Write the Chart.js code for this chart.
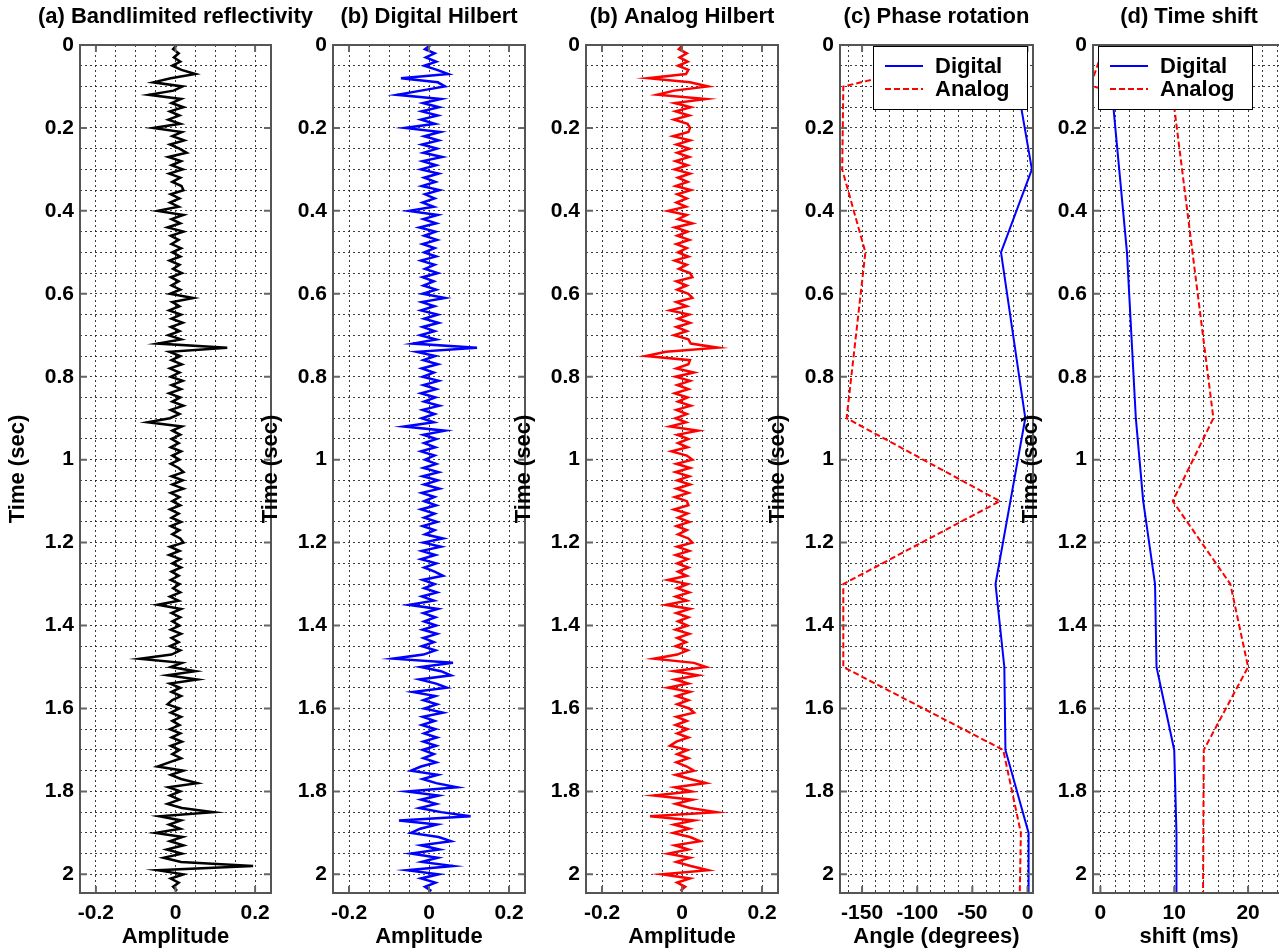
<!DOCTYPE html>
<html>
<head>
<meta charset="utf-8">
<title>Hilbert transform comparison</title>
<script src="https://cdn.jsdelivr.net/npm/chart.js@4.4.1/dist/chart.umd.min.js"></script>
<style>
  html, body { margin: 0; padding: 0; background: #fff; overflow: hidden; }
  body { width: 1279px; height: 950px; position: relative; }
  canvas { position: absolute; top: 0; }
</style>
</head>
<body>
<canvas id="reflect"></canvas>
<canvas id="digital"></canvas>
<canvas id="analog"></canvas>
<canvas id="phase"></canvas>
<canvas id="shift"></canvas>
<script>
// traces are sampled every 10 ms, amplitudes below are in units of 0.001
var reflectivity = [
  3, -6, 8, -4, 12, -8, 15, 50, -12, -56, 18, -5, -67, 14, -10, 20, -14, 10, -18, 12,
  -56, 16, -8, 22, -14, 10, 28, -18, 14, -10, 18, -16, 12, -8, 15, 20, -12, 10, -14, 8,
  -45, 20, -10, 12, -20, 20, -12, 8, -10, 14, -8, 12, -15, 10, -6, 16, -12, 8, -10, 12,
  -14, 45, -8, 10, -16, 14, -10, 18, -12, 10, -18, 14, -45, 130, -15, 12, -10, 16, -14, 10,
  -12, 18, -10, 14, -16, 12, -8, 20, -12, 10, -14, -70, 16, -8, 12, -10, 8, -12, 14, -8,
  10, -12, 8, 20, -10, 18, -8, 20, -12, 10, -8, 12, -14, 8, -10, 14, -12, 10, -8, 12,
  20, -14, 10, -16, 12, -8, 14, -10, 8, -12, 10, -6, 12, -14, 8, -45, 14, -10, 12, -8,
  10, -12, 14, -10, 8, -14, 12, -10, -90, 16, -12, 50, -20, 55, -14, 12, -10, 14, -8, -20,
  10, -12, 14, -8, 10, -14, 12, -10, 16, -12, 10, -8, 14, -16, -45, 20, -12, 14, 55, -18,
  12, -14, 10, -20, 16, 95, -40, 14, -16, 12, -50, 18, -14, 20, -22, 16, -30, 14, 195, -45,
  20, -12, 8, -6, 4
];
var digitalHilbert = [
  4, -10, 14, -8, 18, -12, 20, 48, -70, 22, 40, -20, -80, 30, -15, 25, -18, 22, -20, 15,
  -60, 28, -12, 24, -18, 20, -14, 33, -16, 18, -20, 24, -12, 16, -18, 26, -10, 14, -16, 12,
  -50, 22, -14, 18, -24, 16, -12, 20, -16, 14, -12, 18, -20, 14, -10, 22, -16, 12, -14, 18,
  -16, 40, -18, 14, -20, 22, -12, 24, -16, 14, -22, 18, -40, 120, -30, 16, -14, 22, -18, 12,
  -16, 24, -14, 18, -20, 16, -12, 26, -16, 14, -18, 12, -62, 40, -14, 18, -12, 16, -20, 14,
  -10, 18, -14, 24, -16, 22, -12, 26, -18, 14, -12, 18, -20, 14, -12, 20, -16, 14, -10, 35,
  -14, 30, -18, 16, -20, 18, -12, 14, 35, -16, 14, -12, 20, -18, 12, -50, 22, -14, 16, -12,
  18, -16, 20, -14, 12, -18, 16, -14, -90, 60, -20, 30, 55, -24, 18, 45, -40, 16, -14, 20,
  -12, 35, -16, 14, -18, 16, -12, 20, -14, 18, -16, 12, -14, 18, -20, -45, 22, -16, 18, 70,
  -55, 24, -20, 18, -24, 30, 104, -75, 20, -22, -45, 24, 55, -20, 26, -45, 22, -18, 60, -55,
  24, -20, 16, -10, 6
];
var analogHilbert = [
  2, -8, 12, -6, 14, -10, 16, 10, -85, 20, 65, -20, -62, 60, -18, 22, -16, 18, -20, 14,
  20, 16, -22, 20, -14, 18, -12, 18, -16, 14, -18, 20, -10, 14, -16, 22, -12, 12, -14, 10,
  -35, 12, -10, 26, -18, 14, -12, 18, -14, 12, -10, 16, -18, 12, -8, 20, 26, -14, 12, -12,
  16, 26, -14, 12, -30, 18, -10, 20, -14, 12, -20, 16, 22, 90, -40, -90, 20, 16, -14, 30,
  -16, 20, -12, 16, -18, 14, -10, 22, -14, 12, -16, 10, -30, 40, -12, 16, -10, 14, -26, 12,
  26, -14, 20, -16, 18, -12, 20, -14, 16, -18, 12, 16, -20, 14, -10, 18, -14, 12, -10, 16,
  26, -12, 18, -16, 14, -12, 16, -10, 12, -35, 14, -12, 18, -16, 12, -40, 20, -14, 16, -10,
  14, -16, 18, -12, 10, -16, 14, -12, -70, 30, 60, -20, 40, -18, 16, -35, 20, -14, 16, -12,
  18, 30, -14, 12, -16, 14, -12, 16, -14, -30, 14, -12, 16, -14, 12, 30, -16, 20, 60, -18,
  24, -70, 26, -16, 20, 86, -80, 30, -20, 18, -22, 20, 45, -18, 16, -35, 20, -14, 22, 65,
  -50, 20, -12, 8, -4
];

// phase rotation (degrees) at window centres
var phaseDigitalTime = [0, 0.1, 0.3, 0.5, 0.9, 1.3, 1.5, 1.7, 1.9, 2.045];
var phaseDigital     = [-3, -9, 4, -24, -2, -29, -21, -20, 1, 1];
var phaseAnalogTime  = [0, 0.1, 0.3, 0.5, 0.9, 1.1, 1.3, 1.5, 1.7, 1.9, 2.045];
var phaseAnalog      = [-7, -167, -168, -147, -164, -25, -167, -167, -22, -6, -7];

// time shift (ms)
var shiftDigitalTime = [0, 0.1, 0.5, 0.9, 1.1, 1.3, 1.5, 1.7, 1.9, 2.045];
var shiftDigital     = [0.2, 1.5, 3.6, 4.8, 5.8, 7.4, 7.6, 10.0, 10.3, 10.3];
var shiftAnalogTime  = [0, 0.08, 0.1, 0.15, 0.9, 1.1, 1.3, 1.5, 1.7, 2.045];
var shiftAnalog      = [0.6, -1, -1, 10.0, 15.3, 9.8, 17.6, 20.0, 14.0, 13.9];

// labelled ticks
var timeTickLabels  = [0, 0.2, 0.4, 0.6, 0.8, 1, 1.2, 1.4, 1.6, 1.8, 2];
var ampTickLabels   = [-0.2, 0, 0.2];
var angleTickLabels = [-150, -100, -50, 0];
var shiftTickLabels = [0, 10, 20];

var FONT = '"Liberation Sans", Arial, Helvetica, sans-serif';
Chart.defaults.font.family = FONT;
Chart.defaults.color = '#000';
var GRID = 'rgba(25,25,25,0.85)';

var traceTime = [];
for (var i = 0; i < reflectivity.length; i++) traceTime.push(+(i * 0.01).toFixed(2));

function tracePoints(values) {
    return values.map(function (v, k) { return {x: v / 1000, y: traceTime[k]}; });
}
function curvePoints(times, values) {
    return values.map(function (v, k) { return {x: v, y: times[k]}; });
}
// grid positions between lo and hi every step
function gridValues(lo, hi, step) {
    var out = [];
    var first = Math.ceil(lo / step - 1e-9);
    for (var k = first; k * step <= hi + 1e-9; k++) out.push(Math.round(k * step * 1000) / 1000);
    return out;
}
function hasValue(list, v) {
    return list.some(function (t) { return Math.abs(t - v) < 1e-6; });
}

// draws the axes box, inward tick marks, the panel title and the legend
var matlabFrame = {
    id: 'matlabFrame',
    afterDraw: function (chart, args, opts) {
        var ctx = chart.ctx, a = chart.chartArea;
        var xs = chart.scales.x, ys = chart.scales.y;
        ctx.save();
        ctx.fillStyle = '#000';
        ctx.font = 'bold 22px ' + FONT;
        ctx.textAlign = 'center';
        ctx.textBaseline = 'middle';
        ctx.fillText(opts.title, (a.left + a.right) / 2, 17);

        ctx.strokeStyle = '#666';
        ctx.lineWidth = 2;
        ctx.beginPath();
        opts.xMajor.forEach(function (v) {
            var px = xs.getPixelForValue(v);
            ctx.moveTo(px, a.bottom); ctx.lineTo(px, a.bottom - 7);
            ctx.moveTo(px, a.top); ctx.lineTo(px, a.top + 7);
        });
        timeTickLabels.forEach(function (v) {
            var py = ys.getPixelForValue(v);
            ctx.moveTo(a.left, py); ctx.lineTo(a.left + 7, py);
            ctx.moveTo(a.right, py); ctx.lineTo(a.right - 7, py);
        });
        ctx.stroke();

        ctx.strokeStyle = '#555';
        ctx.lineWidth = 2;
        ctx.strokeRect(a.left, a.top, a.right - a.left, a.bottom - a.top);

        if (opts.legend) {
            var w = 154, h = 63;
            var bx = opts.legend === 'ne' ? a.right - 6 - w : a.left + 5;
            var by = a.top + 1;
            ctx.fillStyle = '#fff';
            ctx.fillRect(bx, by, w, h);
            ctx.strokeStyle = '#000';
            ctx.lineWidth = 1;
            ctx.strokeRect(bx + 0.5, by + 0.5, w, h);
            chart.data.datasets.forEach(function (ds, k) {
                var ry = by + 20 + k * 23;
                ctx.strokeStyle = ds.borderColor;
                ctx.lineWidth = ds.borderWidth;
                ctx.setLineDash(ds.borderDash || []);
                ctx.beginPath();
                ctx.moveTo(bx + 12, ry);
                ctx.lineTo(bx + 50, ry);
                ctx.stroke();
                ctx.setLineDash([]);
                ctx.fillStyle = '#000';
                ctx.textAlign = 'left';
                ctx.fillText(ds.label, bx + 62, ry + 1);
            });
        }
        ctx.restore();
    }
};

function makePanel(id, p) {
    var canvas = document.getElementById(id);
    var yWidth = 75, rightPad = 50;
    canvas.width = p.plotRight - p.plotLeft + yWidth + rightPad;
    canvas.height = 950;
    canvas.style.left = (p.plotLeft - yWidth) + 'px';
    var xGrid = gridValues(p.xMin, p.xMax, p.xStep);
    var yGrid = gridValues(0, 2.045, 0.05);
    return new Chart(canvas, {
        type: 'scatter',
        data: {datasets: p.datasets},
        options: {
            responsive: false,
            animation: false,
            devicePixelRatio: 1,
            layout: {padding: {top: 45, right: rightPad, bottom: 0, left: 0}},
            plugins: {
                legend: {display: false},
                tooltip: {enabled: false},
                matlabFrame: {title: p.title, xMajor: p.xLabels, legend: p.legend}
            },
            scales: {
                x: {
                    type: 'linear',
                    position: 'bottom',
                    min: p.xMin,
                    max: p.xMax,
                    afterBuildTicks: function (s) { s.ticks = xGrid.map(function (v) { return {value: v}; }); },
                    afterFit: function (s) { s.height = 57; },
                    ticks: {
                        autoSkip: false, maxRotation: 0, minRotation: 0, padding: 8,
                        font: {size: 21, weight: 'bold'}, color: '#000',
                        callback: function (v) { return hasValue(p.xLabels, v) ? String(v) : ''; }
                    },
                    grid: {color: GRID, lineWidth: 1, drawTicks: false},
                    border: {display: false, dash: [2, 3]},
                    title: {display: true, text: p.xTitle, padding: 0, color: '#000', font: {size: 22, weight: 'bold'}}
                },
                y: {
                    type: 'linear',
                    position: 'left',
                    reverse: true,
                    min: 0,
                    max: 2.045,
                    afterBuildTicks: function (s) { s.ticks = yGrid.map(function (v) { return {value: v}; }); },
                    afterFit: function (s) { s.width = yWidth; },
                    ticks: {
                        autoSkip: false, padding: 6,
                        font: {size: 21, weight: 'bold'}, color: '#000',
                        callback: function (v) { return hasValue(timeTickLabels, v) ? String(v) : ''; }
                    },
                    grid: {color: GRID, lineWidth: 1, drawTicks: false},
                    border: {display: false, dash: [2, 3]},
                    title: {display: true, text: 'Time (sec)', padding: 0, color: '#000', font: {size: 22, weight: 'bold'}}
                }
            }
        },
        plugins: [matlabFrame]
    });
}

function traceSet(label, values, color) {
    return {label: label, data: tracePoints(values), borderColor: color, borderWidth: 2.5,
            showLine: true, pointRadius: 0, tension: 0, fill: false};
}

makePanel('reflect', {
    plotLeft: 80, plotRight: 271, xMin: -0.24, xMax: 0.24, xStep: 0.05, xLabels: ampTickLabels,
    title: '(a) Bandlimited reflectivity', xTitle: 'Amplitude',
    datasets: [traceSet('Reflectivity', reflectivity, '#000000')]
});
makePanel('digital', {
    plotLeft: 333, plotRight: 525, xMin: -0.24, xMax: 0.24, xStep: 0.05, xLabels: ampTickLabels,
    title: '(b) Digital Hilbert', xTitle: 'Amplitude',
    datasets: [traceSet('Digital', digitalHilbert, '#0000ff')]
});
makePanel('analog', {
    plotLeft: 586, plotRight: 778, xMin: -0.24, xMax: 0.24, xStep: 0.05, xLabels: ampTickLabels,
    title: '(b) Analog Hilbert', xTitle: 'Amplitude',
    datasets: [traceSet('Analog', analogHilbert, '#ff0000')]
});
makePanel('phase', {
    plotLeft: 840, plotRight: 1033, xMin: -170, xMax: 5, xStep: 12.5, xLabels: angleTickLabels,
    title: '(c) Phase rotation', xTitle: 'Angle (degrees)', legend: 'ne',
    datasets: [
        {label: 'Digital', data: curvePoints(phaseDigitalTime, phaseDigital), borderColor: '#0000ff',
         borderWidth: 2, showLine: true, pointRadius: 0, tension: 0},
        {label: 'Analog', data: curvePoints(phaseAnalogTime, phaseAnalog), borderColor: '#ff0000',
         borderWidth: 2, borderDash: [6, 3], showLine: true, pointRadius: 0, tension: 0}
    ]
});
makePanel('shift', {
    plotLeft: 1093, plotRight: 1285, xMin: -1, xMax: 25, xStep: 2, xLabels: shiftTickLabels,
    title: '(d) Time shift', xTitle: 'shift (ms)', legend: 'nw',
    datasets: [
        {label: 'Digital', data: curvePoints(shiftDigitalTime, shiftDigital), borderColor: '#0000ff',
         borderWidth: 2, showLine: true, pointRadius: 0, tension: 0},
        {label: 'Analog', data: curvePoints(shiftAnalogTime, shiftAnalog), borderColor: '#ff0000',
         borderWidth: 2, borderDash: [6, 3], showLine: true, pointRadius: 0, tension: 0}
    ]
});
</script>
</body>
</html>
